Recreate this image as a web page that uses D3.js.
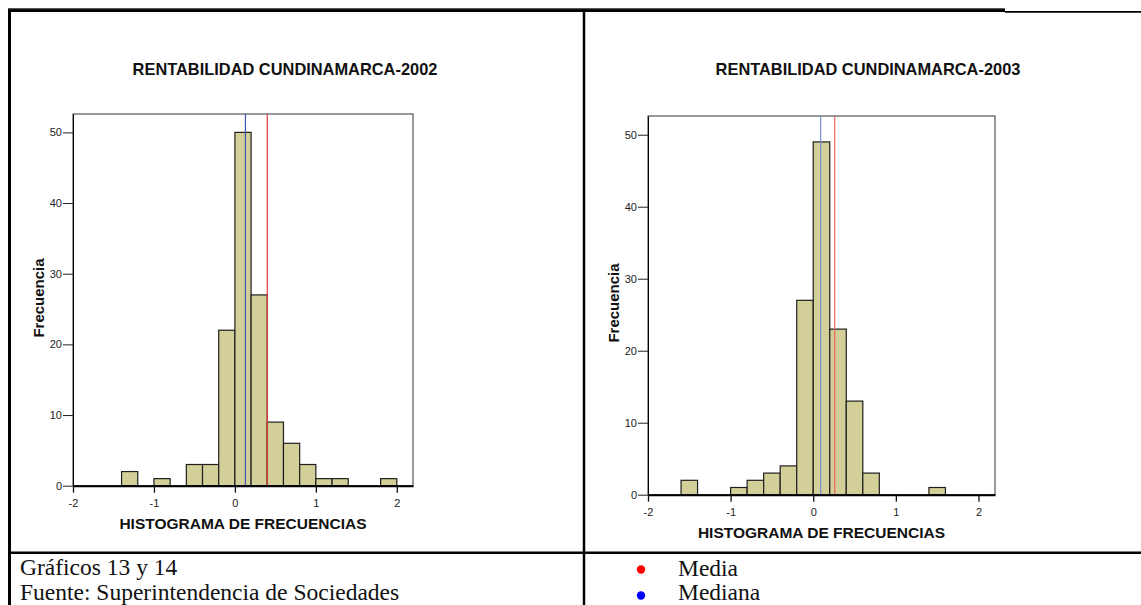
<!DOCTYPE html>
<html>
<head>
<meta charset="utf-8">
<script src="https://cdn.jsdelivr.net/npm/d3@7"></script>
<style>
  html, body { margin: 0; padding: 0; background: #fff; }
  svg { display: block; }
</style>
</head>
<body>
<svg id="chart" width="1141" height="605"></svg>
<script>
// ---------------- data ----------------
const chartTitles = ["RENTABILIDAD CUNDINAMARCA-2002", "RENTABILIDAD CUNDINAMARCA-2003"];
const binWidth = 0.2;
const binLows2002 = [-1.4, -1.0, -0.6, -0.4, -0.2, 0.0, 0.2, 0.4, 0.6, 0.8, 1.0, 1.2, 1.8];
const counts2002  = [2, 1, 3, 3, 22, 50, 27, 9, 6, 3, 1, 1, 1];
const binLows2003 = [-1.6, -1.0, -0.8, -0.6, -0.4, -0.2, 0.0, 0.2, 0.4, 0.6, 1.4];
const counts2003  = [2, 1, 2, 3, 4, 27, 49, 23, 13, 3, 1];
const mean2002 = 0.40, median2002 = 0.13;
const mean2003 = 0.26, median2003 = 0.09;
const xTickValues = [-2, -1, 0, 1, 2];
const yTickValues = [0, 10, 20, 30, 40, 50];
const xDomain = [-2, 2.2];
const yDomain = [0, 52.6];
const xAxisTitle = "HISTOGRAMA DE FRECUENCIAS";
const yAxisTitle = "Frecuencia";
const captionLines = ["Gráficos 13 y 14", "Fuente: Superintendencia de Sociedades"];
const legendLabels = ["Media", "Mediana"];

// ---------------- layout ----------------
const svg = d3.select("#chart");
const SANS = "'Liberation Sans', Arial, sans-serif";
const SERIF = "'Liberation Serif', 'Times New Roman', serif";

const panels = [
  { title: chartTitles[0], lows: binLows2002, counts: counts2002, mean: mean2002, median: median2002,
    left: 73, right: 413, top: 114, bottom: 485.7, titleX: 285, yTitleX: 44, yTitleY: 298,
    blue: "#3d55b3", red: "#e03a3a" },
  { title: chartTitles[1], lows: binLows2003, counts: counts2003, mean: mean2003, median: median2003,
    left: 648, right: 995, top: 116, bottom: 494.7, titleX: 868, yTitleX: 619, yTitleY: 303,
    blue: "#7590d2", red: "#f06262" }
];

// table borders
svg.append("rect").attr("x", 8).attr("y", 8).attr("width", 997).attr("height", 4).attr("fill", "#000");
svg.append("rect").attr("x", 8).attr("y", 8).attr("width", 997).attr("height", 1.2).attr("fill", "#555");
svg.append("line").attr("x1", 1005).attr("x2", 1141).attr("y1", 11.8).attr("y2", 11.8)
  .attr("stroke", "#000").attr("stroke-width", 1.8);
svg.append("line").attr("x1", 9.5).attr("x2", 9.5).attr("y1", 10).attr("y2", 605)
  .attr("stroke", "#000").attr("stroke-width", 3);
svg.append("line").attr("x1", 584).attr("x2", 584).attr("y1", 10).attr("y2", 605)
  .attr("stroke", "#000").attr("stroke-width", 2.5);
svg.append("line").attr("x1", 8).attr("x2", 1141).attr("y1", 552.8).attr("y2", 552.8)
  .attr("stroke", "#000").attr("stroke-width", 2.5);

panels.forEach(p => {
  const x = d3.scaleLinear().domain(xDomain).range([p.left, p.right]);
  const y = d3.scaleLinear().domain(yDomain).range([p.bottom, p.top]);
  const g = svg.append("g");

  // title
  g.append("text").attr("x", p.titleX).attr("y", 75).attr("text-anchor", "middle")
    .attr("font-family", SANS).attr("font-weight", "bold").attr("font-size", 16.4)
    .attr("fill", "#111").text(p.title);

  // frame
  g.append("rect").attr("x", p.left).attr("y", p.top)
    .attr("width", p.right - p.left).attr("height", p.bottom - p.top)
    .attr("fill", "none").attr("stroke", "#333").attr("stroke-width", 1);

  // bars
  const bins = p.lows.map((lo, i) => ({ lo, hi: lo + binWidth, n: p.counts[i] }));
  g.selectAll("rect.bar").data(bins).join("rect").attr("class", "bar")
    .attr("x", d => x(d.lo)).attr("width", d => x(d.hi) - x(d.lo))
    .attr("y", d => y(d.n)).attr("height", d => y(0) - y(d.n))
    .attr("fill", "#d3cf99").attr("stroke", "#1e1e1e").attr("stroke-width", 1.2);

  // median & mean lines
  g.append("line").attr("x1", x(p.median)).attr("x2", x(p.median))
    .attr("y1", p.top).attr("y2", p.bottom).attr("stroke", p.blue).attr("stroke-width", 1.2);
  g.append("line").attr("x1", x(p.mean)).attr("x2", x(p.mean))
    .attr("y1", p.top).attr("y2", p.bottom).attr("stroke", p.red).attr("stroke-width", 1.2);

  // y axis
  const ya = g.append("g").attr("transform", `translate(${p.left},0)`)
    .call(d3.axisLeft(y).tickValues(yTickValues).tickSize(10).tickPadding(1).tickSizeOuter(0));
  ya.select(".domain").attr("stroke", "#000").attr("stroke-width", 1);
  ya.selectAll(".tick line").attr("stroke", "#222").attr("stroke-width", 1);
  ya.selectAll("text").attr("font-family", SANS).attr("font-size", 11).attr("fill", "#222");

  // x axis
  const xa = g.append("g").attr("transform", `translate(0,${p.bottom})`)
    .call(d3.axisBottom(x).tickValues(xTickValues).tickSize(7).tickPadding(7).tickSizeOuter(0)
      .tickFormat(d3.format("d")));
  xa.select(".domain").attr("stroke", "#000").attr("stroke-width", 2);
  xa.selectAll(".tick line").attr("stroke", "#111").attr("stroke-width", 1.3);
  xa.selectAll("text").attr("font-family", SANS).attr("font-size", 11).attr("fill", "#222")
    .text(d => d < 0 ? "-" + Math.abs(d) : d);

  // axis titles
  g.append("text").attr("x", (p.left + p.right) / 2).attr("y", p.bottom + 43)
    .attr("text-anchor", "middle").attr("font-family", SANS).attr("font-weight", "bold")
    .attr("font-size", 15.5).attr("fill", "#111").text(xAxisTitle);
  g.append("text").attr("transform", `translate(${p.yTitleX},${p.yTitleY}) rotate(-90)`)
    .attr("text-anchor", "middle").attr("font-family", SANS).attr("font-weight", "bold")
    .attr("font-size", 15).attr("fill", "#111").text(yAxisTitle);
});

// captions
captionLines.forEach((t, i) => {
  svg.append("text").attr("x", 20).attr("y", 575 + i * 25)
    .attr("font-family", SERIF).attr("font-size", 23.5).attr("fill", "#111").text(t);
});
const legendColors = ["#ff0000", "#0000ff"];
legendLabels.forEach((t, i) => {
  svg.append("circle").attr("cx", 641).attr("cy", 569.5 + i * 26).attr("r", 4.2).attr("fill", legendColors[i]);
  svg.append("text").attr("x", 678).attr("y", 576 + i * 24)
    .attr("font-family", SERIF).attr("font-size", 23.5).attr("fill", "#111").text(t);
});
</script>
</body>
</html>
